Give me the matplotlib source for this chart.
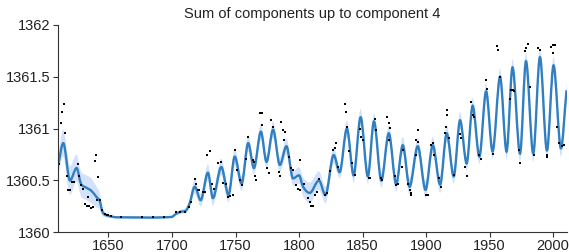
import numpy as np
import matplotlib
matplotlib.use('Agg')
import matplotlib.pyplot as plt
from matplotlib.path import Path
from matplotlib.patches import PathPatch

plt.rcParams['font.family'] = ['Liberation Sans', 'DejaVu Sans']

# turning points of the reconstructed curve (year, value) and half width of the band
curve_years = [1610.5, 1614.4, 1619.7, 1624.9, 1628.3, 1632.7, 1636.6, 1640.6, 1643.2, 1645.2,
               1648.4, 1657.6, 1699.5, 1703.4, 1707.3, 1711.0, 1713.9, 1717.9, 1722.6, 1728.3,
               1732.2, 1738.8, 1744.5, 1749.4, 1754.8, 1760.0, 1764.5, 1770.0, 1774.4, 1779.6,
               1784.9, 1790.1, 1795.3, 1800.0, 1803.2, 1808.4, 1815.7, 1820.8, 1827.3, 1832.0,
               1837.7, 1843.0, 1848.5, 1854.2, 1859.0, 1864.8, 1870.7, 1876.5, 1881.7, 1887.0,
               1893.5, 1899.6, 1905.3, 1911.1, 1916.3, 1921.8, 1926.8, 1932.0, 1936.7, 1942.0,
               1947.3, 1952.4, 1958.3, 1963.4, 1968.1, 1974.0, 1978.7, 1984.4, 1989.7, 1995.2,
               2000.4, 2006.2, 2010.6]
curve_vals = [1360.66, 1360.86, 1360.50, 1360.62, 1360.47, 1360.43, 1360.40, 1360.34, 1360.30, 1360.20,
              1360.165, 1360.145, 1360.148, 1360.18, 1360.20, 1360.21, 1360.28, 1360.44, 1360.31, 1360.575,
              1360.33, 1360.63, 1360.36, 1360.73, 1360.47, 1360.86, 1360.62, 1360.97, 1360.68, 1360.99,
              1360.65, 1360.83, 1360.52, 1360.55, 1360.44, 1360.38, 1360.50, 1360.36, 1360.745, 1360.58,
              1361.00, 1360.55, 1361.11, 1360.54, 1361.07, 1360.50, 1360.955, 1360.465, 1360.84, 1360.44,
              1360.83, 1360.41, 1360.84, 1360.46, 1360.955, 1360.54, 1361.08, 1360.665, 1361.22, 1360.73,
              1361.36, 1360.78, 1361.50, 1360.78, 1361.59, 1360.76, 1361.65, 1360.76, 1361.69, 1360.79,
              1361.61, 1360.81, 1361.37]
band_half = [0.10, 0.13, 0.14, 0.13, 0.12, 0.12, 0.12, 0.10, 0.08, 0.04,
             0.02, 0.01, 0.01, 0.015, 0.02, 0.025, 0.04, 0.07, 0.06, 0.08,
             0.07, 0.08, 0.07, 0.08, 0.07, 0.08, 0.06, 0.08, 0.06, 0.08,
             0.07, 0.08, 0.07, 0.08, 0.09, 0.10, 0.09, 0.08, 0.08, 0.06,
             0.08, 0.07, 0.08, 0.07, 0.08, 0.07, 0.08, 0.07, 0.08, 0.08,
             0.08, 0.08, 0.08, 0.08, 0.08, 0.07, 0.08, 0.07, 0.08, 0.07,
             0.08, 0.07, 0.08, 0.08, 0.08, 0.08, 0.08, 0.08, 0.08, 0.08,
             0.08, 0.08, 0.08]

# observations
obs_years = [1611.3, 1612.6, 1613.6, 1615.0, 1615.8, 1617.0, 1618.4, 1619.7, 1621.0, 1623.0,
             1626.2, 1626.7, 1628.3, 1630.0, 1631.5, 1633.0, 1635.0, 1636.5, 1638.0, 1634.0,
             1639.0, 1640.0, 1642.0, 1640.6, 1643.2, 1645.0, 1647.0, 1648.5, 1650.0, 1652.0,
             1660.0, 1676.0, 1685.0, 1694.0, 1703.0, 1706.5, 1710.0, 1713.0, 1714.6, 1718.0,
             1719.0, 1720.5, 1721.5, 1724.4, 1725.7, 1727.5, 1729.6, 1731.6, 1732.9, 1736.2,
             1738.3, 1740.0, 1742.3, 1744.0, 1745.8, 1748.3, 1749.8, 1751.3, 1753.4, 1755.2,
             1758.6, 1760.0, 1763.4, 1764.5, 1765.3, 1766.0, 1769.2, 1770.5, 1771.0, 1774.9,
             1776.2, 1778.3, 1779.6, 1784.3, 1784.9, 1786.2, 1787.5, 1788.8, 1787.8, 1792.2,
             1794.0, 1795.3, 1801.1, 1797.5, 1799.3, 1800.6, 1803.7, 1807.0, 1808.5, 1809.8,
             1811.0, 1812.4, 1814.2, 1815.7, 1820.2, 1822.0, 1824.7, 1826.7, 1828.0, 1829.4,
             1830.7, 1836.0, 1837.3, 1838.0, 1839.3, 1842.0, 1843.8, 1847.7, 1849.0, 1850.3,
             1855.0, 1856.0, 1859.5, 1860.3, 1864.5, 1865.2, 1869.2, 1870.7, 1871.8, 1871.0,
             1875.2, 1876.5, 1878.3, 1881.7, 1881.0, 1885.7, 1887.0, 1888.3, 1887.8, 1892.2,
             1893.5, 1894.0, 1892.2, 1900.0, 1901.4, 1904.0, 1905.8, 1906.6, 1910.6, 1911.9,
             1915.8, 1915.0, 1916.6, 1916.8, 1917.8, 1921.8, 1926.8, 1927.6, 1930.8, 1932.0,
             1935.5, 1937.3, 1938.1, 1942.0, 1943.3, 1947.3, 1948.0, 1952.4, 1955.6, 1956.9,
             1958.5, 1966.9, 1968.1, 1969.4, 1966.3, 1974.0, 1973.5, 1977.9, 1979.1, 1980.5,
             1982.0, 1985.2, 1988.3, 1989.7, 1994.9, 1995.5, 1998.3, 2000.2, 2001.5, 2000.2,
             2003.5, 2004.8, 2007.4, 2008.7]
obs_vals = [1360.66, 1361.05, 1361.16, 1361.24, 1360.955, 1360.54, 1360.41, 1360.41, 1360.49, 1360.49,
            1360.66, 1360.54, 1360.46, 1360.42, 1360.27, 1360.25, 1360.25, 1360.23, 1360.24, 1360.34,
            1360.69, 1360.745, 1360.53, 1360.31, 1360.31, 1360.22, 1360.18, 1360.17, 1360.165, 1360.16,
            1360.15, 1360.15, 1360.15, 1360.15, 1360.20, 1360.20, 1360.20, 1360.24, 1360.29, 1360.51,
            1360.47, 1360.41, 1360.41, 1360.39, 1360.39, 1360.745, 1360.78, 1360.47, 1360.42, 1360.67,
            1360.68, 1360.48, 1360.47, 1360.34, 1360.35, 1360.36, 1360.79, 1360.60, 1360.50, 1360.455,
            1360.71, 1360.92, 1360.70, 1360.68, 1360.54, 1360.50, 1361.15, 1361.15, 1361.035, 1360.62,
            1360.575, 1361.08, 1361.02, 1360.58, 1360.54, 1361.06, 1360.99, 1360.97, 1360.89, 1360.73,
            1360.62, 1360.60, 1360.70, 1360.46, 1360.42, 1360.41, 1360.47, 1360.33, 1360.29, 1360.25,
            1360.25, 1360.36, 1360.39, 1360.51, 1360.36, 1360.375, 1360.59, 1360.79, 1360.81, 1360.86,
            1360.63, 1361.24, 1361.16, 1361.02, 1360.78, 1360.665, 1360.55, 1361.00, 1360.92, 1360.89,
            1360.52, 1360.52, 1361.09, 1360.99, 1360.52, 1360.50, 1361.115, 1361.05, 1361.01, 1360.89,
            1360.54, 1360.46, 1360.47, 1360.79, 1360.63, 1360.47, 1360.41, 1360.38, 1360.36, 1360.89,
            1360.99, 1360.875, 1360.745, 1360.36, 1360.36, 1360.84, 1360.86, 1360.745, 1360.52, 1360.44,
            1361.02, 1360.955, 1361.18, 1361.13, 1360.91, 1360.55, 1360.95, 1360.91, 1360.63, 1360.54,
            1361.26, 1361.13, 1361.115, 1360.745, 1360.71, 1361.47, 1361.38, 1360.76, 1361.80, 1361.76,
            1361.50, 1361.37, 1361.37, 1361.36, 1361.29, 1360.665, 1360.79, 1361.75, 1361.775, 1361.82,
            1361.40, 1360.745, 1361.775, 1361.76, 1360.745, 1360.73, 1361.79, 1361.81, 1361.81, 1361.73,
            1361.02, 1360.86, 1360.83, 1360.84]

x_ticks = [1650, 1700, 1750, 1800, 1850, 1900, 1950, 2000]
y_ticks = [1360, 1360.5, 1361, 1361.5, 1362]


def hermite_path(xs, ys):
    # smooth line through the turning points, flat at local extrema
    xs = np.asarray(xs, float)
    ys = np.asarray(ys, float)
    n = len(xs)
    m = np.zeros(n)
    for i in range(n):
        if i == 0:
            m[i] = (ys[1] - ys[0]) / (xs[1] - xs[0])
        elif i == n - 1:
            m[i] = (ys[-1] - ys[-2]) / (xs[-1] - xs[-2])
        elif (ys[i] - ys[i-1]) * (ys[i+1] - ys[i]) <= 0:
            m[i] = 0.0
        else:
            m[i] = (ys[i+1] - ys[i-1]) / (xs[i+1] - xs[i-1])
    verts = [(xs[0], ys[0])]
    codes = [Path.MOVETO]
    for i in range(n - 1):
        h = xs[i+1] - xs[i]
        verts += [(xs[i] + h/3, ys[i] + m[i]*h/3),
                  (xs[i+1] - h/3, ys[i+1] - m[i+1]*h/3),
                  (xs[i+1], ys[i+1])]
        codes += [Path.CURVE4] * 3
    return verts, codes


fig = plt.figure(figsize=(5.69, 2.52), dpi=100)
ax = fig.add_axes([0.1025, 0.078, 0.894, 0.823])

cy = np.array(curve_vals)
bw = np.array(band_half)
uv, uc = hermite_path(curve_years, cy + bw)
lv, lc = hermite_path(curve_years[::-1], (cy - bw)[::-1])
lc[0] = Path.LINETO
band = Path(uv + lv + [uv[0]], uc + lc + [Path.CLOSEPOLY])
ax.add_patch(PathPatch(band, facecolor='#d3e2fa', edgecolor='none'))

cv, cc = hermite_path(curve_years, curve_vals)
ax.add_patch(PathPatch(Path(cv, cc), facecolor='none', edgecolor='#2f7fc1', lw=1.7))

ax.plot(obs_years, obs_vals, 's', color='black', markersize=2.0, markeredgewidth=0)

ax.set_xlim(1610.5, 2011)
ax.set_ylim(1360, 1362)
ax.set_xticks(x_ticks)
ax.set_yticks(y_ticks)
ax.set_yticklabels(['%g' % v for v in y_ticks])
ax.spines['top'].set_visible(False)
ax.spines['right'].set_visible(False)
for s in ['left', 'bottom']:
    ax.spines[s].set_color('#333333')
    ax.spines[s].set_linewidth(0.8)
ax.tick_params(direction='out', length=3.5, width=0.8, colors='#333333', labelsize=10.5,
               labelcolor='#222222')
ax.tick_params(axis='x', pad=1.5)
ax.tick_params(axis='y', pad=2)
ax.set_title('Sum of components up to component 4', fontsize=10.5, color='#222222', pad=5)

fig.savefig('out.png', dpi=100)
